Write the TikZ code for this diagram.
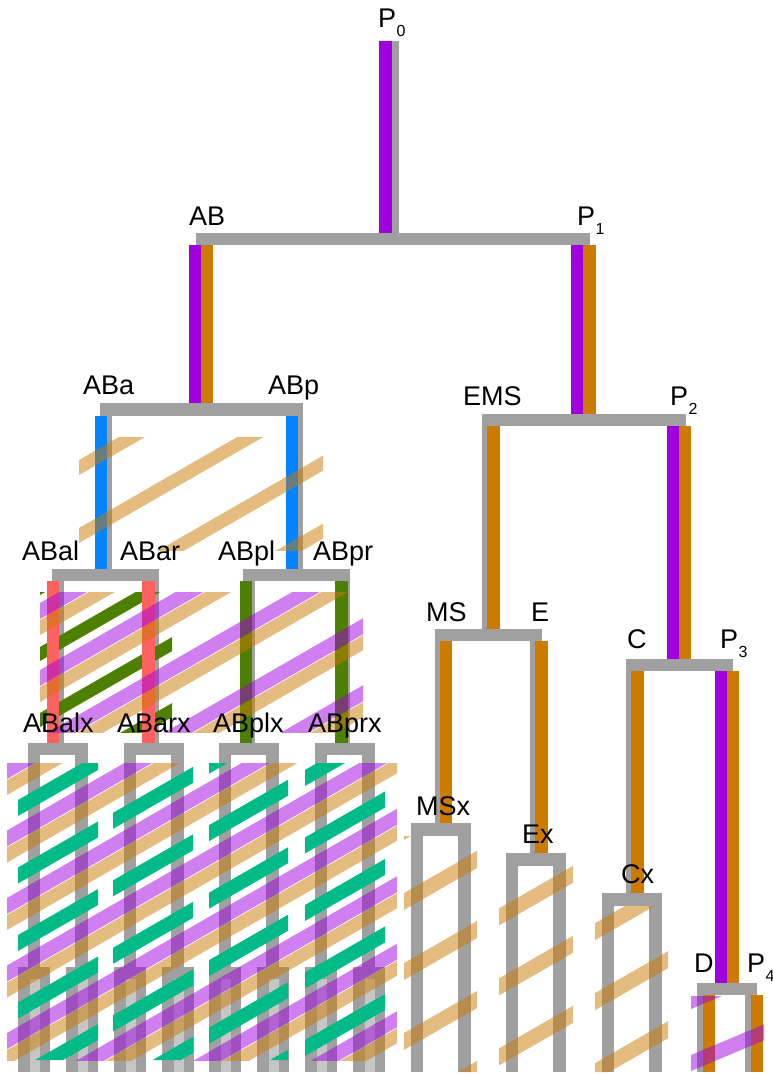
\documentclass[tikz,border=0pt]{standalone}
\usepackage{fontspec}
\setmainfont{Liberation Sans}
\definecolor{tgray}{HTML}{A0A0A0}
\definecolor{tlight}{HTML}{C6C6C6}
\definecolor{tpurple}{HTML}{A000E0}
\definecolor{torange}{HTML}{CC7A00}
\definecolor{tblue}{HTML}{0084FF}
\definecolor{tred}{HTML}{FF6060}
\definecolor{tolive}{HTML}{4E8000}
\definecolor{tteal}{HTML}{00BB88}
\tikzset{
  branch/.style={fill=tgray},
  lbl/.style={anchor=base west, inner sep=0pt, font=\fontsize{27}{27}\selectfont},
  pstripe/.style={fill=tpurple, fill opacity=0.5},
  ostripe/.style={fill=torange, fill opacity=0.5},
  olstripe/.style={fill=tolive},
  tlstripe/.style={fill=tteal},
}
% gray branch piece: x1 y1 x2 y2 (pixel-like units, y downwards)
\newcommand\gbox[4]{\fill[branch] (#1,#2) rectangle (#3,#4);}
% coloured lineage bar
\newcommand\cbar[5]{\fill[#1] (#2,#3) rectangle (#4,#5);}
% diagonal hatching: style, x ref, top edge y at x ref, period, thickness, slope, k list
\newcommand\hatch[7]{%
  \foreach \k in {#7}{%
    \pgfmathsetmacro\ya{#3+\k*#4+#6*60}%
    \pgfmathsetmacro\yb{#3+\k*#4-#6*460}%
    \fill[#1] ({#2-60},{\ya}) -- ({#2+460},{\yb}) -- ({#2+460},{\yb+#5}) -- ({#2-60},{\ya+#5}) -- cycle;
  }}
\newcommand\psub[2]{#1\hspace{0.5pt}\raisebox{-9pt}{\fontsize{16}{16}\selectfont #2}}
\begin{document}
\begin{tikzpicture}[x=1pt,y=-1pt]
\useasboundingbox[fill=white] (0,0) rectangle (773,1074);

% ---------- gray lineage tree ----------
\gbox{387}{41}{399}{233}
\gbox{196}{233}{590}{245}
\gbox{196}{245}{208}{403}
\gbox{578}{245}{590}{414}
\gbox{100}{403}{303}{416}
\gbox{100}{416}{112}{569}
\gbox{291}{416}{303}{569}
\gbox{482}{414}{686}{426}
\gbox{482}{426}{494}{629}
\gbox{674}{426}{686}{659}
\gbox{52}{569}{159}{581}
\gbox{52}{581}{64}{743}
\gbox{147}{581}{159}{743}
\gbox{243}{569}{350}{581}
\gbox{243}{581}{255}{743}
\gbox{338}{581}{350}{743}
\gbox{435}{629}{542}{641}
\gbox{435}{641}{447}{823}
\gbox{530}{641}{542}{853}
\gbox{626}{659}{733}{671}
\gbox{626}{671}{638}{893}
\gbox{721}{671}{733}{983}
% AB great-granddaughters and their daughters
\foreach \c in {58,154,249,345}{
  \gbox{\c-30}{743}{\c+30}{755}
  \gbox{\c-30}{755}{\c-18}{967}
  \gbox{\c+17}{755}{\c+30}{967}
  \foreach \b in {\c-24,\c+24}{
    \gbox{\b-16}{967}{\b+16}{1072}
    \fill[tlight] ({\b-4},979) rectangle ({\b+6},1072);
  }
}
% MSx, Ex, Cx
\foreach \c/\t in {441/823,536/853,632/893}{
  \gbox{\c-30}{\t}{\c+30}{\t+13}
  \gbox{\c-30}{\t+13}{\c-18}{1072}
  \gbox{\c+17}{\t+13}{\c+30}{1072}
}
% D / P4
\gbox{697}{983}{757}{995}
\gbox{697}{995}{709}{1072}
\gbox{745}{995}{757}{1072}

% ---------- opaque hatching ----------
\begin{scope}
  \clip (40,592) rectangle (172,732);
  \hatch{olstripe}{40}{647}{66}{14}{0.575}{-2,...,3}
\end{scope}
\begin{scope}
  \clip (18,763) rectangle (98,1060) (113,763) rectangle (193,1060)
        (209,763) rectangle (288,1060) (305,763) rectangle (385,1060);
  \hatch{tlstripe}{18}{800}{67.5}{16}{0.575}{-1,...,8}
\end{scope}

% ---------- coloured lineage bars ----------
\cbar{tpurple}{379}{41}{392}{233}
\cbar{tpurple}{189}{245}{201}{403}
\cbar{torange}{201}{245}{213}{403}
\cbar{tpurple}{571}{245}{583}{414}
\cbar{torange}{583}{245}{596}{414}
\cbar{tblue}{95}{416}{107}{569}
\cbar{tblue}{286}{416}{298}{569}
\cbar{torange}{487}{426}{500}{629}
\cbar{tpurple}{667}{426}{679}{659}
\cbar{torange}{679}{426}{691}{659}
\cbar{tred}{47}{581}{59}{743}
\cbar{tred}{142}{581}{155}{743}
\cbar{tolive}{240}{581}{252}{743}
\cbar{tolive}{335}{581}{348}{743}
\cbar{torange}{440}{641}{452}{823}
\cbar{torange}{535}{641}{548}{853}
\cbar{torange}{631}{671}{644}{893}
\cbar{tpurple}{715}{671}{727}{983}
\cbar{torange}{727}{671}{739}{983}
\cbar{torange}{703}{995}{715}{1072}
\cbar{torange}{751}{995}{763}{1072}

% ---------- translucent hatching ----------
\begin{scope}
  \clip (79,437) rectangle (323,550);
  \hatch{ostripe}{79}{460}{68}{15}{0.575}{-1,...,5}
\end{scope}
\begin{scope}
  \clip (40,592) rectangle (363,732);
  \hatch{pstripe}{40}{603}{67}{16}{0.575}{-1,...,6}
  \hatch{ostripe}{40}{620}{67}{15}{0.575}{-1,...,6}
\end{scope}
\begin{scope}
  \clip (7,763) rectangle (397,1060);
  \hatch{pstripe}{7}{763}{67.5}{16}{0.575}{-1,...,9}
  \hatch{ostripe}{7}{780}{67.5}{15}{0.575}{-1,...,9}
\end{scope}
\begin{scope}
  \clip (404,836) rectangle (477,1072) (499,866) rectangle (573,1072)
        (595,906) rectangle (668,1072);
  \hatch{ostripe}{404}{893}{70}{17}{0.575}{-2,...,4}
\end{scope}
\begin{scope}
  \clip (691,996) rectangle (764,1072);
  \hatch{pstripe}{691}{1055}{62}{16}{0.42}{-2,...,1}
\end{scope}

% ---------- cell names ----------
\node[lbl] (p0) at (378,27) {\psub{P}{0}};
\node[lbl] (ab) at (189,225) {AB};
\node[lbl] (p1) at (577,225) {\psub{P}{1}};
\node[lbl] (aba) at (83,394) {ABa};
\node[lbl] (abp) at (268,394) {ABp};
\node[lbl] (ems) at (463,405) {EMS};
\node[lbl] (p2) at (670,405) {\psub{P}{2}};
\node[lbl] (abal) at (22,560) {ABal};
\node[lbl] (abar) at (120,560) {ABar};
\node[lbl] (abpl) at (218,560) {ABpl};
\node[lbl] (abpr) at (313,560) {ABpr};
\node[lbl] (abalx) at (23,732) {ABalx};
\node[lbl] (abarx) at (117,732) {ABarx};
\node[lbl] (abplx) at (213,732) {ABplx};
\node[lbl] (abprx) at (308,732) {ABprx};
\node[lbl] (ms) at (426,621) {MS};
\node[lbl] (e) at (531,621) {E};
\node[lbl] (c) at (627,648) {C};
\node[lbl] (p3) at (720,648) {\psub{P}{3}};
\node[lbl] (msx) at (416,815) {MSx};
\node[lbl] (ex) at (522,843) {Ex};
\node[lbl] (cx) at (621,883) {Cx};
\node[lbl] (d) at (694,972) {D};
\node[lbl] (p4) at (747,972) {\psub{P}{4}};
\end{tikzpicture}
\end{document}
